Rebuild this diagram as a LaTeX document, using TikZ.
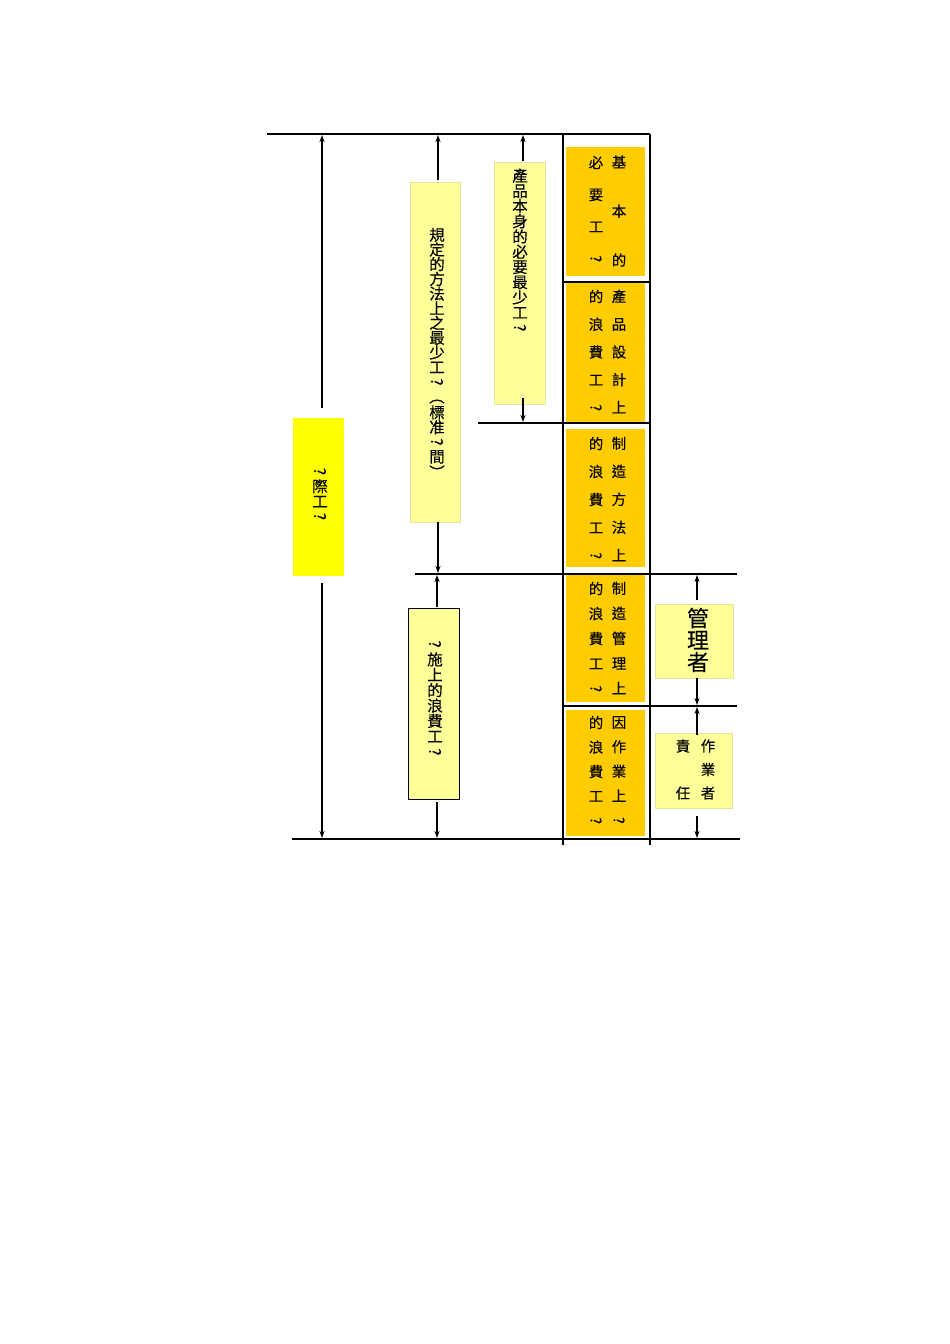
\documentclass[tikz,border=0pt]{standalone}
\usepackage{fontspec}
\usepackage{graphicx}
\setmainfont{Noto Sans CJK TC}[FakeBold=0.15]
\usetikzlibrary{arrows.meta}
\newcommand{\qmk}{\rotatebox[origin=c]{-90}{?}}
\newcommand{\lpar}{\rotatebox[origin=c]{-90}{（}}
\newcommand{\rpar}{\rotatebox[origin=c]{-90}{）}}
\definecolor{orangeY}{HTML}{FFCC00}
\definecolor{yelB}{HTML}{FFFF00}
\definecolor{yelL}{HTML}{FFFF99}
\definecolor{yelEdge}{HTML}{E4E49C}
\begin{document}
\begin{tikzpicture}[x=1pt,y=-1pt,
  rule/.style={line width=2.2pt,black},
  arr/.style={line width=1.5pt,black,-{Stealth[length=7pt,width=5pt]}},
  obox/.style={fill=orangeY,draw=none,inner sep=0pt,minimum width=79pt,minimum height=#1},
  ybox/.style={fill=yelL,draw=yelEdge,line width=0.8pt,inner sep=0pt},
  col/.style={inner sep=0pt,align=center,font=\fontsize{14.5}{#1}\selectfont},
  vtxt/.style={inner sep=0pt,align=center,font=\fontsize{15.5}{15}\selectfont}
]
\useasboundingbox (0,0) rectangle (950,1344);
\fill[white] (0,0) rectangle (950,1344);

% ---------- orange cells ----------
\node[obox=129pt] (o1) at (605.5,211.5) {};
\node[obox=139pt] (o2) at (605.5,352.5) {};
\node[obox=138pt] (o3) at (605.5,498) {};
\node[obox=127pt] (o4) at (605.5,638.5) {};
\node[obox=126pt] (o5) at (605.5,773) {};

\node[col=32] (o1L) at (596,210) {必\\要\\工\\\qmk};
\node[col=49] (o1R) at (619,211) {基\\本\\的};
\node[col=27.75] (o2L) at (596,351.5) {的\\浪\\費\\工\\\qmk};
\node[col=27.75] (o2R) at (619,351.5) {產\\品\\設\\計\\上};
\node[col=28] (o3L) at (596,499) {的\\浪\\費\\工\\\qmk};
\node[col=28] (o3R) at (619,499) {制\\造\\方\\法\\上};
\node[col=25] (o4L) at (596,638) {的\\浪\\費\\工\\\qmk};
\node[col=25] (o4R) at (619,638) {制\\造\\管\\理\\上};
\node[col=24.5] (o5L) at (596,771) {的\\浪\\費\\工\\\qmk};
\node[col=24.5] (o5R) at (619,771) {因\\作\\業\\上\\\qmk};

% ---------- yellow boxes ----------
\node[fill=yelB,draw=none,inner sep=0pt,minimum width=51pt,minimum height=158pt] (y1) at (318.5,497) {};
\node[ybox,minimum width=50pt,minimum height=340pt] (y2) at (435,352) {};
\node[ybox,minimum width=51pt,minimum height=242pt] (y3) at (519.5,283) {};
\node[fill=yelL,draw=black,line width=1pt,inner sep=0pt,minimum width=51pt,minimum height=191pt] (y4) at (433.5,703.5) {};
\node[ybox,minimum width=78pt,minimum height=74pt] (y5) at (694,641) {};
\node[ybox,minimum width=77pt,minimum height=75pt] (y6) at (693.5,770.5) {};

\node[vtxt] (t1) at (320,495) {\qmk\\際\\工\\\qmk};
\node[vtxt,font=\fontsize{15.5}{14.7}\selectfont] (t2) at (437,354) {規\\定\\的\\方\\法\\上\\之\\最\\少\\工\\\qmk\\\lpar\\標\\准\\\qmk\\間\\\rpar};
\node[vtxt,font=\fontsize{15.5}{15.2}\selectfont] (t3) at (520,251) {產\\品\\本\\身\\的\\必\\要\\最\\少\\工\\\qmk};
\node[vtxt,font=\fontsize{15.5}{15.4}\selectfont] (t4) at (435,699) {\qmk\\施\\上\\的\\浪\\費\\工\\\qmk};
\node[inner sep=0pt,align=center,font=\fontsize{22}{22}\selectfont] (t5) at (698,640) {管\\理\\者};
\node[col=23.5] (t6R) at (708,769.5) {作\\業\\者};
\node[col=47] (t6L) at (683,769.5) {責\\任};

% ---------- rules ----------
\coordinate (h1a) at (267,134); \coordinate (h1b) at (650,134);
\coordinate (h2a) at (563,282); \coordinate (h2b) at (650,282);
\coordinate (h3a) at (478,423); \coordinate (h3b) at (650,423);
\coordinate (h4a) at (415,574); \coordinate (h4b) at (737,574);
\coordinate (h5a) at (563,706); \coordinate (h5b) at (737,706);
\coordinate (h6a) at (292,839); \coordinate (h6b) at (740,839);
\coordinate (v1a) at (563,134); \coordinate (v1b) at (563,845);
\coordinate (v2a) at (650,134); \coordinate (v2b) at (650,845);
\draw[rule] (h1a) -- (h1b);
\draw[rule] (h2a) -- (h2b);
\draw[rule] (h3a) -- (h3b);
\draw[rule] (h4a) -- (h4b);
\draw[rule] (h5a) -- (h5b);
\draw[rule] (h6a) -- (h6b);
\draw[rule] (v1a) -- (v1b);
\draw[rule] (v2a) -- (v2b);

% ---------- arrows ----------
\coordinate (a1s) at (322,408); \coordinate (a1e) at (322,135);
\coordinate (a2s) at (322,583); \coordinate (a2e) at (322,838);
\coordinate (a3s) at (438,180); \coordinate (a3e) at (438,135);
\coordinate (a4s) at (438,522); \coordinate (a4e) at (438,573);
\coordinate (a5s) at (437,607); \coordinate (a5e) at (437,575);
\coordinate (a6s) at (437,802); \coordinate (a6e) at (437,838);
\coordinate (a7s) at (523,161); \coordinate (a7e) at (523,135);
\coordinate (a8s) at (523,398); \coordinate (a8e) at (523,422);
\coordinate (a9s) at (697,600); \coordinate (a9e) at (697,575);
\coordinate (a10s) at (697,678); \coordinate (a10e) at (697,705);
\coordinate (a11s) at (697,735); \coordinate (a11e) at (697,707);
\coordinate (a12s) at (697,816); \coordinate (a12e) at (697,838);
\draw[arr] (a1s) -- (a1e);
\draw[arr] (a2s) -- (a2e);
\draw[arr] (a3s) -- (a3e);
\draw[arr] (a4s) -- (a4e);
\draw[arr] (a5s) -- (a5e);
\draw[arr] (a6s) -- (a6e);
\draw[arr] (a7s) -- (a7e);
\draw[arr] (a8s) -- (a8e);
\draw[arr] (a9s) -- (a9e);
\draw[arr] (a10s) -- (a10e);
\draw[arr] (a11s) -- (a11e);
\draw[arr] (a12s) -- (a12e);
\end{tikzpicture}
\end{document}
